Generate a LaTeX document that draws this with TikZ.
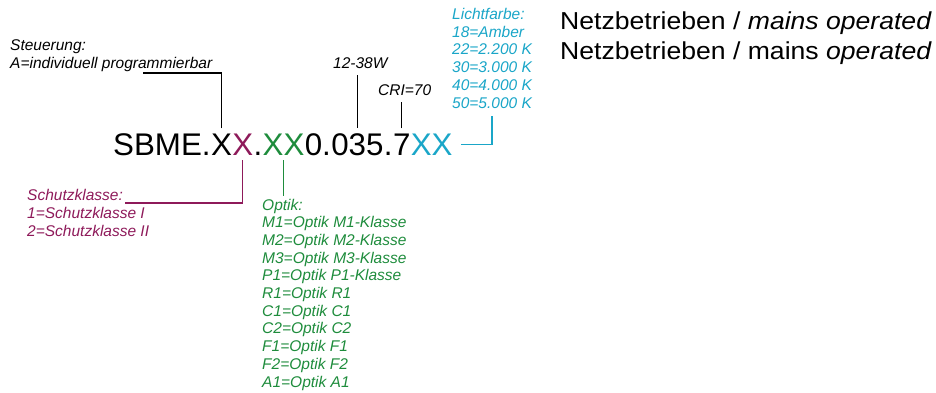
\documentclass[tikz,border=0pt]{standalone}
\usepackage{fontspec}
\setmainfont{Liberation Sans}
\newfontfamily\netzfont{Liberation Sans}[FakeStretch=1.085]
\usepackage{tikz}
\usetikzlibrary{positioning}
\definecolor{prot}{HTML}{8E1A5A}
\definecolor{optc}{HTML}{1E8C3C}
\definecolor{cctc}{HTML}{1AA6C8}
\tikzstyle{code}=[inner sep=0pt,anchor=base west,font=\fontsize{31.3}{36}\selectfont]
\tikzstyle{label}=[inner sep=0pt,anchor=base west,align=left,font=\fontsize{15.5}{17.7}\selectfont\itshape]
\tikzstyle{leader}=[line width=1.2pt]
\tikzset{every picture/.style={
    x=1pt,y=-1pt
  }
}
\begin{document}
\begin{tikzpicture}
      \useasboundingbox (0,0) rectangle (936,392);
      % type code
      \node[code] at (113,155) (pre) {SBME.};
      \node[code] at (pre.base east) (ctrl) {X};
      \node[code,prot] at (ctrl.base east) (pk) {X};
      \node[code] at (pk.base east) (dot) {.};
      \node[code,optc] at (dot.base east) (opt) {XX};
      \node[code] at (opt.base east) (zero) {0.};
      \node[code] at (zero.base east) (watt) {035};
      \node[code] at (watt.base east) (dot2) {.};
      \node[code] at (dot2.base east) (cri) {7};
      \node[code,cctc] at (cri.base east) (cct) {XX};
      % labels (base = last line)
      \node[label] at (10,68) (steuer) {Steuerung:\\A=individuell programmierbar};
      \node[label] at (333,68) (wattl) {12-38W};
      \node[label] at (378,95) (cril) {CRI=70};
      \node[label,cctc] at (452,108) (licht) {Lichtfarbe:\\18=Amber\\22=2.200 K\\30=3.000 K\\40=4.000 K\\50=5.000 K};
      \node[label,prot] at (27,236) (schutz) {Schutzklasse:\\1=Schutzklasse I\\2=Schutzklasse II};
      \node[label,optc] at (262,387) (optik) {Optik:\\M1=Optik M1-Klasse\\M2=Optik M2-Klasse\\M3=Optik M3-Klasse\\P1=Optik P1-Klasse\\R1=Optik R1\\C1=Optik C1\\C2=Optik C2\\F1=Optik F1\\F2=Optik F2\\A1=Optik A1};
      \node[inner sep=0pt,anchor=base west,align=left,font=\fontsize{24.5}{30}\netzfont] at (560,59.3) (netz) {Netzbetrieben / \textit{mains operated}\\Netzbetrieben / mains \textit{operated}};
      % leaders
      \coordinate (stend) at (143,73);
      \coordinate (pkend) at (125,203);
      \coordinate (lichtend) at (492,116);
      \draw[leader] ([yshift=5pt]ctrl.north) |- (stend);
      \draw[leader] ([yshift=5pt]watt.north) -- ([yshift=-7pt]wattl.south -| watt.north);
      \draw[leader] ([yshift=5pt]cri.north) -- ([yshift=-7pt]cril.south -| cri.north);
      \draw[leader,prot] ([yshift=-5pt]pk.south) |- (pkend);
      \draw[leader,optc] ([yshift=-5pt]opt.south) -- ([yshift=3pt]optik.north -| opt.south);
      \draw[leader,cctc] ([xshift=8pt]cct.east) -| (lichtend);
    \end{tikzpicture}
\end{document}
